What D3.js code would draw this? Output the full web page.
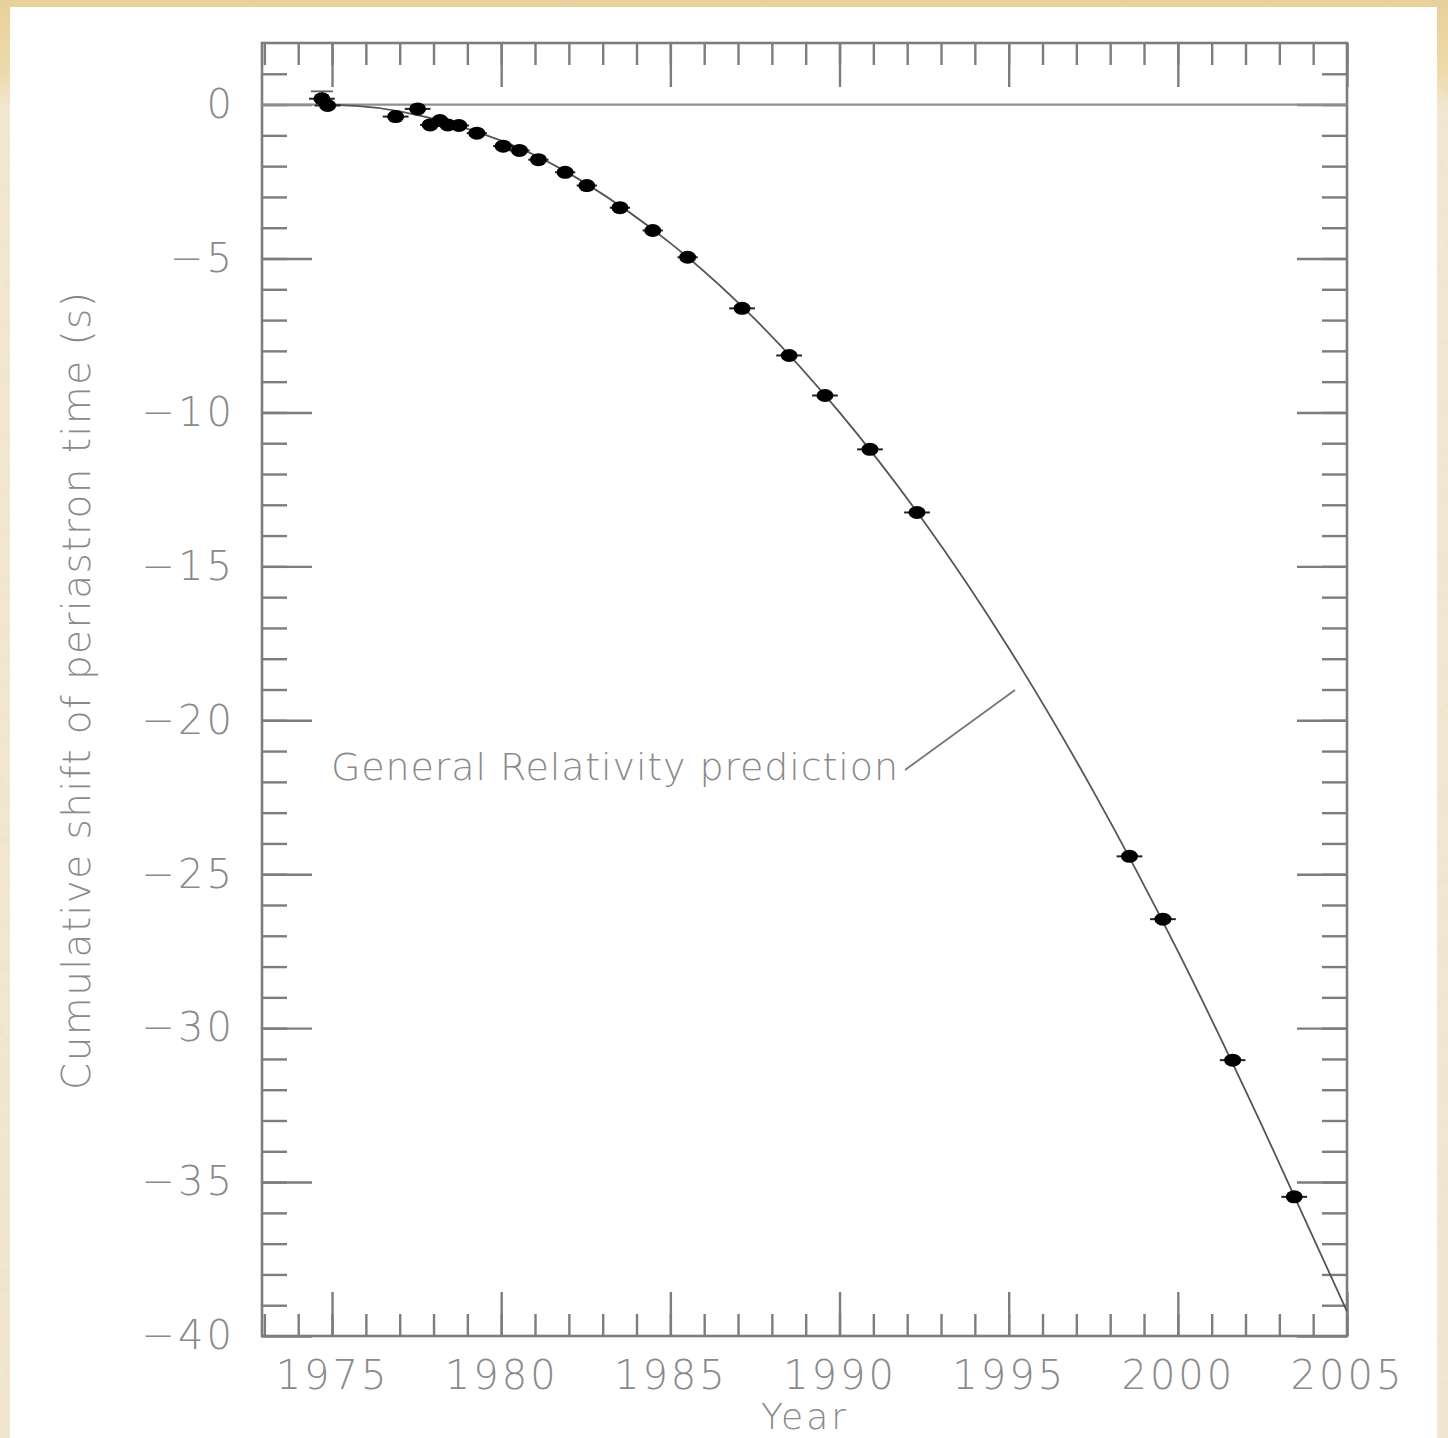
<!DOCTYPE html>
<html>
<head>
<meta charset="utf-8">
<script src="https://cdn.jsdelivr.net/npm/d3@7"></script>
<style>
  html, body { margin: 0; padding: 0; background: #f1e7d0; }
  svg { display: block; }
  text { font-family: "DejaVu Sans", "Liberation Sans", sans-serif; font-weight: 200; fill: #8a8a8a; }
</style>
</head>
<body>
<svg id="chart" width="1448" height="1438"></svg>
<script>
// ---- Data ----
const obsYears = [1974.70, 1974.87, 1976.88, 1977.53, 1977.90, 1978.19, 1978.42, 1978.75, 1979.28,
                  1980.06, 1980.54, 1981.10, 1981.89, 1982.53, 1983.51, 1984.48, 1985.51, 1987.12,
                  1988.51, 1989.57, 1990.90, 1992.29, 1998.57, 1999.56, 2001.62, 2003.44];
const obsShift = [0.19, -0.03, -0.39, -0.14, -0.66, -0.52, -0.66, -0.68, -0.93,
                  -1.35, -1.49, -1.79, -2.20, -2.63, -3.35, -4.09, -4.96, -6.62,
                  -8.15, -9.45, -11.20, -13.25, -24.42, -26.46, -31.04, -35.48];
const obsErrY  = [0.24, 0, 0, 0, 0, 0, 0, 0, 0, 0, 0, 0, 0, 0, 0, 0, 0, 0, 0, 0, 0, 0, 0, 0, 0, 0];
const obsErrX  = [0.38, 0.38, 0.38, 0.38, 0.3, 0.3, 0.3, 0.3, 0.3, 0.3, 0.3, 0.3, 0.3, 0.3, 0.3, 0.3, 0.3, 0.38,
                  0.38, 0.38, 0.38, 0.38, 0.38, 0.38, 0.38, 0.38];

// General Relativity prediction curve
const grYears = [1974.6, 1977.0, 1980.0, 1982.5, 1985.0, 1987.5, 1990.0, 1992.5, 1995.0, 1997.5, 2000.0, 2002.5, 2005.0];
const grShift = [0.0, -0.22, -1.17, -2.56, -4.50, -6.97, -10.00, -13.55, -17.65, -22.30, -27.50, -33.20, -39.20];

// Axis ticks
const xMajorTicks = [1975, 1980, 1985, 1990, 1995, 2000, 2005];
const xMinorTicks = d3.range(1973, 2006);
const yMajorTicks = [0, -5, -10, -15, -20, -25, -30, -35, -40];
const yMinorTicks = d3.range(-39, 2);

const xTitle = "Year";
const yTitle = "Cumulative shift of periastron time (s)";
const annotation = "General Relativity prediction";

// ---- Layout ----
const svg = d3.select("#chart");
const L = 262, R = 1347, T = 43, B = 1336;

const x = d3.scaleLinear().domain([1972.93, 2005.0]).range([L, R]);
const y = d3.scaleLinear().domain([-40, 2]).range([B, T]);

// Background parchment
const defs = svg.append("defs");
const grad = defs.append("linearGradient").attr("id", "parch").attr("x1", 0).attr("y1", 0).attr("x2", 0).attr("y2", 1);
grad.append("stop").attr("offset", "0%").attr("stop-color", "#e8d09a");
grad.append("stop").attr("offset", "5%").attr("stop-color", "#eedaab");
grad.append("stop").attr("offset", "7.5%").attr("stop-color", "#f2e8d2");
grad.append("stop").attr("offset", "100%").attr("stop-color", "#f1e7d1");
const filt = defs.append("filter").attr("id", "grain").attr("x", 0).attr("y", 0).attr("width", "100%").attr("height", "100%");
filt.append("feTurbulence").attr("type", "fractalNoise").attr("baseFrequency", 0.08).attr("numOctaves", 2).attr("seed", 3).attr("result", "n");
filt.append("feColorMatrix").attr("in", "n").attr("type", "matrix")
  .attr("values", "0 0 0 0 0.75  0 0 0 0 0.65  0 0 0 0 0.45  0 0 0 -1.1 0.55");
svg.append("rect").attr("width", 1448).attr("height", 1438).attr("fill", "url(#parch)");
svg.append("rect").attr("width", 1448).attr("height", 1438).attr("filter", "url(#grain)").attr("opacity", 0.45);

// White panel
svg.append("rect").attr("x", 10).attr("y", 7).attr("width", 1427).attr("height", 1440).attr("fill", "#ffffff");

const axisColor = "#7d7d7d";
const fmt = d3.format("d");

function styleAxis(g) {
  g.select(".domain").remove();
  g.selectAll(".tick line").attr("stroke", axisColor).attr("stroke-width", 2.4);
  g.selectAll(".tick text")
    .attr("fill", "#8c8c8c")
    .style("font-size", "40px")
    .style("letter-spacing", "3px")
    .style("font-family", '"DejaVu Sans", sans-serif')
    .style("font-weight", 200);
}

// Bottom axis
svg.append("g").attr("transform", `translate(0,${B})`)
  .call(d3.axisBottom(x).tickValues(xMinorTicks).tickSize(-22).tickFormat(""))
  .call(styleAxis);
svg.append("g").attr("transform", `translate(0,${B})`)
  .call(d3.axisBottom(x).tickValues(xMajorTicks).tickSize(-44).tickPadding(25).tickFormat(fmt))
  .call(styleAxis);
// Top axis
svg.append("g").attr("transform", `translate(0,${T})`)
  .call(d3.axisTop(x).tickValues(xMinorTicks).tickSize(-22).tickFormat(""))
  .call(styleAxis);
svg.append("g").attr("transform", `translate(0,${T})`)
  .call(d3.axisTop(x).tickValues(xMajorTicks).tickSize(-44).tickFormat(""))
  .call(styleAxis);
// Left axis
svg.append("g").attr("transform", `translate(${L},0)`)
  .call(d3.axisLeft(y).tickValues(yMinorTicks).tickSize(-25).tickFormat(""))
  .call(styleAxis);
svg.append("g").attr("transform", `translate(${L},0)`)
  .call(d3.axisLeft(y).tickValues(yMajorTicks).tickSize(-50).tickPadding(27).tickFormat(fmt))
  .call(styleAxis);
// Right axis
svg.append("g").attr("transform", `translate(${R},0)`)
  .call(d3.axisRight(y).tickValues(yMinorTicks).tickSize(-25).tickFormat(""))
  .call(styleAxis);
svg.append("g").attr("transform", `translate(${R},0)`)
  .call(d3.axisRight(y).tickValues(yMajorTicks).tickSize(-50).tickFormat(""))
  .call(styleAxis);

// Frame
svg.append("rect").attr("x", L).attr("y", T).attr("width", R - L).attr("height", B - T)
  .attr("fill", "none").attr("stroke", axisColor).attr("stroke-width", 2.6);

// Zero line
svg.append("line").attr("x1", L).attr("x2", R).attr("y1", y(0)).attr("y2", y(0))
  .attr("stroke", "#8f8f8f").attr("stroke-width", 2.2);

// GR curve
const gr = grYears.map((d, i) => [d, grShift[i]]);
svg.append("path").datum(gr)
  .attr("d", d3.line().x(d => x(d[0])).y(d => y(d[1])).curve(d3.curveNatural))
  .attr("fill", "none").attr("stroke", "#555").attr("stroke-width", 1.8);

// Annotation
svg.append("line").attr("x1", 905).attr("y1", 770).attr("x2", 1015).attr("y2", 690)
  .attr("stroke", "#777").attr("stroke-width", 1.8);
svg.append("text").attr("x", 331).attr("y", 780)
  .attr("textLength", 567).attr("lengthAdjust", "spacing")
  .style("font-size", "38px").attr("fill", "#8c8c8c").text(annotation);

// Observations
const pts = obsYears.map((d, i) => ({ yr: d, v: obsShift[i], ex: obsErrX[i], ey: obsErrY[i] }));
const pg = svg.append("g");
pg.selectAll("line.ex").data(pts).join("line").attr("class", "ex")
  .attr("x1", d => x(d.yr - d.ex)).attr("x2", d => x(d.yr + d.ex))
  .attr("y1", d => y(d.v)).attr("y2", d => y(d.v))
  .attr("stroke", "#222").attr("stroke-width", 2);
pg.selectAll("g.ey").data(pts.filter(d => d.ey > 0)).join("g").attr("class", "ey")
  .each(function(d) {
    const g = d3.select(this);
    g.append("line").attr("x1", x(d.yr)).attr("x2", x(d.yr)).attr("y1", y(d.v + d.ey)).attr("y2", y(d.v - d.ey))
      .attr("stroke", "#444").attr("stroke-width", 1.5);
    g.append("line").attr("x1", x(d.yr) - 11).attr("x2", x(d.yr) + 11).attr("y1", y(d.v + d.ey)).attr("y2", y(d.v + d.ey))
      .attr("stroke", "#666").attr("stroke-width", 1.8);
  });
pg.selectAll("ellipse").data(pts).join("ellipse")
  .attr("cx", d => x(d.yr)).attr("cy", d => y(d.v))
  .attr("rx", 8.5).attr("ry", 6.5).attr("fill", "#000");

// Axis titles
svg.append("text").attr("x", 805).attr("y", 1429).attr("text-anchor", "middle")
  .style("font-size", "36px").style("letter-spacing", "3px").attr("fill", "#8c8c8c").text(xTitle);
svg.append("text").attr("transform", "translate(90,691) rotate(-90)").attr("text-anchor", "middle")
  .attr("textLength", 798).attr("lengthAdjust", "spacing")
  .style("font-size", "39px").attr("fill", "#8c8c8c").text(yTitle);
</script>
</body>
</html>
